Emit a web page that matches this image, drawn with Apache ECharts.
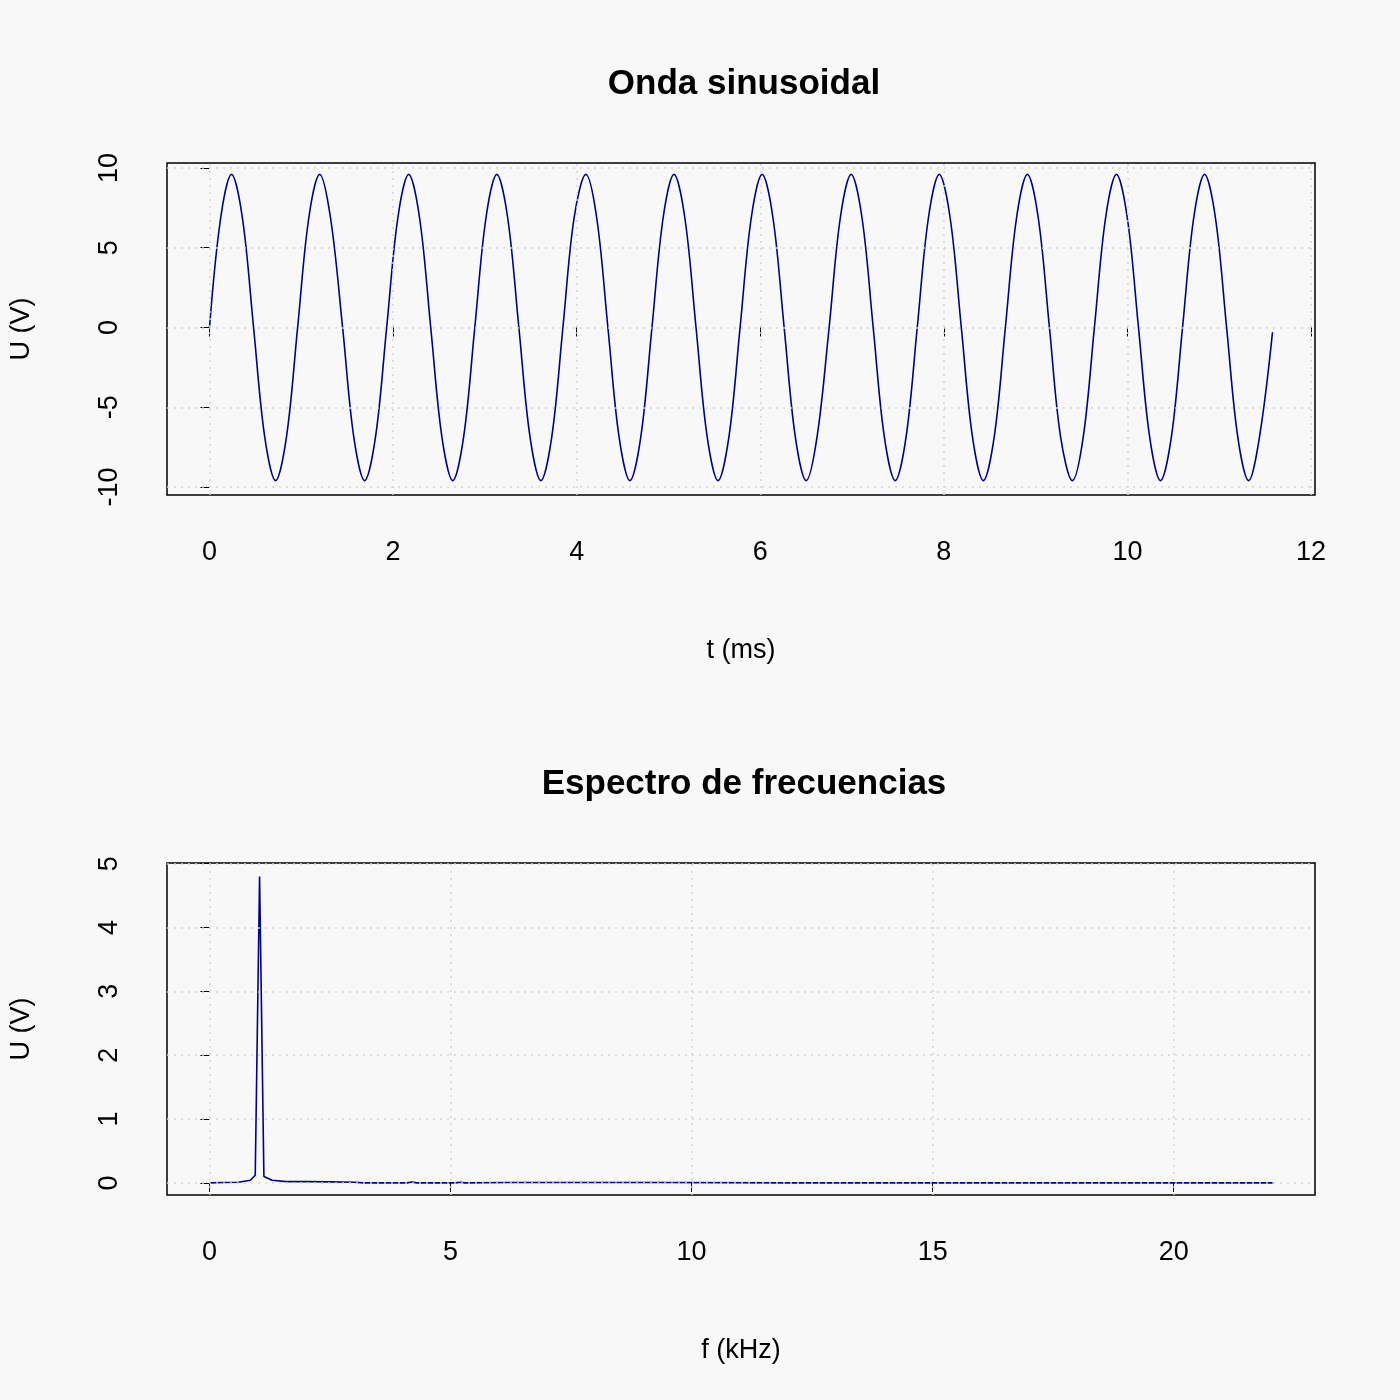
<!DOCTYPE html>
<html style="height: 100%">
<head>
<meta charset="utf-8">
<script src="https://cdn.jsdelivr.net/npm/echarts@6/dist/echarts.min.js"></script>
</head>
<body style="height: 100%; margin: 0; background: #f8f8f8">
<div id="container" style="width: 1400px; height: 1400px"></div>
<script type="text/javascript">
// onda sinusoidal, muestras
var tiempo = [0, 0.12, 0.24, 0.36, 0.48, 0.60, 0.72, 0.84, 0.96, 1.08, 1.20, 1.32, 1.45, 1.57, 1.69, 1.81,
  1.93, 2.05, 2.17, 2.29, 2.41, 2.53, 2.65, 2.77, 2.89, 3.01, 3.13, 3.25, 3.37, 3.49, 3.61, 3.73,
  3.85, 3.97, 4.10, 4.22, 4.34, 4.46, 4.58, 4.70, 4.82, 4.94, 5.06, 5.18, 5.30, 5.42, 5.54, 5.66,
  5.78, 5.90, 6.02, 6.14, 6.26, 6.38, 6.50, 6.62, 6.75, 6.87, 6.99, 7.11, 7.23, 7.35, 7.47, 7.59,
  7.71, 7.83, 7.95, 8.07, 8.19, 8.31, 8.43, 8.55, 8.67, 8.79, 8.91, 9.03, 9.15, 9.27, 9.40, 9.52,
  9.64, 9.76, 9.88, 10.00, 10.12, 10.24, 10.36, 10.48, 10.60, 10.72, 10.84, 10.96, 11.08, 11.20, 11.32, 11.44,
  11.58];
var tension = [0, 6.8, 9.6, 6.8, 0, -6.8, -9.6, -6.8, 0, 6.8, 9.6, 6.8, 0, -6.8, -9.6, -6.8,
  0, 6.8, 9.6, 6.8, 0, -6.8, -9.6, -6.8, 0, 6.8, 9.6, 6.8, 0, -6.8, -9.6, -6.8,
  0, 6.8, 9.6, 6.8, 0, -6.8, -9.6, -6.8, 0, 6.8, 9.6, 6.8, 0, -6.8, -9.6, -6.8,
  0, 6.8, 9.6, 6.8, 0, -6.8, -9.6, -6.8, 0, 6.8, 9.6, 6.8, 0, -6.8, -9.6, -6.8,
  0, 6.8, 9.6, 6.8, 0, -6.8, -9.6, -6.8, 0, 6.8, 9.6, 6.8, 0, -6.8, -9.6, -6.8,
  0, 6.8, 9.6, 6.8, 0, -6.8, -9.6, -6.8, 0, 6.8, 9.6, 6.8, 0, -6.8, -9.6, -6.8,
  -0.3];
// espectro
var frecuencia = [0, 0.3, 0.6, 0.85, 0.95, 1.04, 1.13, 1.3, 1.6, 2.0, 2.5, 3.0, 3.2, 4.1, 4.2, 4.3, 5.1, 5.2, 5.3, 6.2, 8.3, 9.3, 12, 16, 20, 22.05];
var amplitud = [0, 0.005, 0.01, 0.04, 0.12, 4.8, 0.1, 0.04, 0.02, 0.02, 0.015, 0.01, 0, 0, 0.015, 0, 0, 0.01, 0, 0.005, 0.005, 0.005, 0, 0, 0, 0];

var ticksT = [0, 2, 4, 6, 8, 10, 12];
var ticksU1 = [-10, -5, 0, 5, 10];
var ticksF = [0, 5, 10, 15, 20];
var ticksU2 = [0, 1, 2, 3, 4, 5];

function zip(a, b) { return a.map(function (v, i) { return [v, b[i]]; }); }

var font = 'Liberation Sans, Arial, sans-serif';
function xAx(idx, min, max, ticks, name) {
  return {
    type: 'value', gridIndex: idx, min: min, max: max,
    name: name, nameLocation: 'middle', nameGap: 142,
    nameTextStyle: { fontSize: 27, color: '#000', fontFamily: font },
    axisLine: { show: false }, splitLine: { show: false },
    axisTick: { show: true, customValues: ticks, length: 9, lineStyle: { color: '#000' } },
    axisLabel: { customValues: ticks, margin: 44, fontSize: 27, color: '#000', fontFamily: font }
  };
}
function yAx(idx, min, max, ticks, name) {
  return {
    type: 'value', gridIndex: idx, min: min, max: max,
    name: name, nameLocation: 'middle', nameGap: 132, nameRotate: 90,
    nameTextStyle: { fontSize: 27, color: '#000', fontFamily: font },
    axisLine: { show: false }, splitLine: { show: false },
    axisTick: { show: true, customValues: ticks, length: 9, lineStyle: { color: '#000' } },
    axisLabel: { customValues: ticks, rotate: 90, margin: 44, fontSize: 27, color: '#000', fontFamily: font }
  };
}
function gridLines(xs, ys) {
  return {
    silent: true, symbol: 'none', label: { show: false },
    lineStyle: { color: '#d3d3d3', type: [2, 5], width: 1.5 },
    data: xs.map(function (v) { return { xAxis: v }; }).concat(ys.map(function (v) { return { yAxis: v }; }))
  };
}

var chart = echarts.init(document.getElementById('container'));
chart.setOption({
  backgroundColor: '#f8f8f8',
  animation: false,
  title: [
    { text: 'Onda sinusoidal', left: 739, top: 62, textAlign: 'center',
      textStyle: { fontSize: 35, fontWeight: 'bold', color: '#000', fontFamily: font } },
    { text: 'Espectro de frecuencias', left: 739, top: 762, textAlign: 'center',
      textStyle: { fontSize: 35, fontWeight: 'bold', color: '#000', fontFamily: font } }
  ],
  grid: [
    { left: 163, right: 85, top: 163, height: 332, show: true, borderColor: '#000', borderWidth: 1.5, backgroundColor: 'transparent' },
    { left: 163, right: 85, top: 863, height: 332, show: true, borderColor: '#000', borderWidth: 1.5, backgroundColor: 'transparent' }
  ],
  xAxis: [xAx(0, -0.463, 12.043, ticksT, 't (ms)'), xAx(1, -0.88, 22.93, ticksF, 'f (kHz)')],
  yAxis: [yAx(0, -10.5, 10.31, ticksU1, 'U (V)'), yAx(1, -0.19, 5.01, ticksU2, 'U (V)')],
  series: [
    { type: 'line', xAxisIndex: 0, yAxisIndex: 0, data: zip(tiempo, tension), smooth: 0.35,
      showSymbol: false, lineStyle: { color: '#00008b', width: 1.6 }, markLine: gridLines(ticksT, ticksU1) },
    { type: 'line', xAxisIndex: 1, yAxisIndex: 1, data: zip(frecuencia, amplitud),
      showSymbol: false, lineStyle: { color: '#00008b', width: 1.6 }, markLine: gridLines(ticksF, ticksU2) }
  ]
});
</script>
</body>
</html>
